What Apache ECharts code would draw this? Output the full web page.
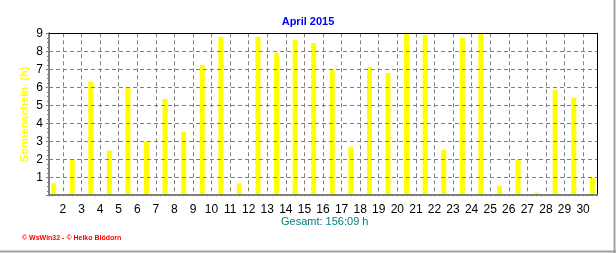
<!DOCTYPE html>
<html>
<head>
<meta charset="utf-8">
<script src="https://cdn.jsdelivr.net/npm/echarts@6/dist/echarts.min.js"></script>
<style>
html,body{margin:0;padding:0;background:#fff;}
#chart{width:616px;height:253px;}
</style>
</head>
<body>
<div id="chart"></div>
<script>
const days = [1,2,3,4,5,6,7,8,9,10,11,12,13,14,15,16,17,18,19,20,21,22,23,24,25,26,27,28,29,30];
const sunshine = [0.67,2.0,6.31,2.48,5.98,2.98,5.35,3.53,7.24,8.79,0.67,8.79,7.9,8.64,8.46,6.96,2.7,7.13,6.79,9.0,8.9,2.53,8.74,9.0,0.53,1.98,0.15,5.87,5.42,0.98];
const dayTickLabels = ['2','3','4','5','6','7','8','9','10','11','12','13','14','15','16','17','18','19','20','21','22','23','24','25','26','27','28','29','30'];
const titleText = 'April 2015';
const yName = 'Sonnenschein  (h)';
const totalText = 'Gesamt: 156:09 h';
const footerText = '© WsWin32 - © Heiko Blödorn';

const FONT = '"Liberation Sans", Arial, sans-serif';
const plotLeft = 49, plotTop = 33.3, plotW = 548, plotH = 162;
const xMin = 0.75, xMax = 30.25;
const pxPerDay = plotW / (xMax - xMin);
const g2Left = plotLeft + (1.5 - xMin) * pxPerDay;
const g2Width = (dayTickLabels.length - 1) * pxPerDay;

const chart = echarts.init(document.getElementById('chart'), null, {renderer: 'canvas'});
chart.setOption({
  animation: false,
  backgroundColor: '#ffffff',
  title: {
    text: titleText, left: 'center', top: 11,
    textStyle: {color: '#0000ff', fontSize: 11, fontWeight: 'bold', fontFamily: FONT}
  },
  grid: [
    {left: plotLeft, top: plotTop, width: plotW, height: plotH},
    {left: g2Left, top: plotTop, width: g2Width, height: plotH}
  ],
  xAxis: [
    {
      type: 'value', gridIndex: 0, min: xMin, max: xMax, interval: 0.25,
      offset: -1, z: 5,
      axisLine: {show: true, lineStyle: {color: '#808080', width: 2}},
      axisTick: {show: true, length: 2, lineStyle: {color: '#808080', width: 1}},
      axisLabel: {show: false},
      splitLine: {show: false}
    },
    {
      type: 'value', gridIndex: 0, position: 'top', min: xMin, max: xMax, z: 5,
      axisLine: {show: true, onZero: false, lineStyle: {color: '#000000', width: 1}},
      axisTick: {show: false}, axisLabel: {show: false}, splitLine: {show: false}
    },
    {
      type: 'category', gridIndex: 1, data: dayTickLabels, boundaryGap: false,
      axisLine: {show: false}, axisTick: {show: false},
      axisLabel: {show: true, interval: 0, margin: 8, color: '#000000', fontSize: 12, fontFamily: FONT},
      splitLine: {show: true, interval: 0, lineStyle: {color: '#808080', width: 1, type: [4, 3]}}
    }
  ],
  yAxis: [
    {
      type: 'value', gridIndex: 0, min: 0, max: 9, interval: 1, z: 5,
      name: yName, nameLocation: 'middle', nameGap: 19, nameRotate: 90,
      nameMoveOverlap: false,
      nameTextStyle: {color: '#ffff00', fontSize: 11, fontWeight: 'bold', fontFamily: FONT},
      axisLine: {show: true, lineStyle: {color: '#808080', width: 2}},
      axisTick: {show: true, length: 3, lineStyle: {color: '#808080'}},
      minorTick: {show: true, splitNumber: 4, length: 2, lineStyle: {color: '#808080'}},
      axisLabel: {margin: 6, color: '#000000', fontSize: 12, fontFamily: FONT,
        formatter: v => (v === 0 ? '' : String(v))},
      splitLine: {show: true, lineStyle: {color: '#808080', width: 1, type: [4, 3]}}
    },
    {
      type: 'value', gridIndex: 0, position: 'right', min: 0, max: 9, z: 5,
      axisLine: {show: true, lineStyle: {color: '#000000', width: 1}},
      axisTick: {show: false}, axisLabel: {show: false}, splitLine: {show: false}
    },
    {
      type: 'value', gridIndex: 1, min: 0, max: 9, show: false
    }
  ],
  series: [
    {
      type: 'bar', xAxisIndex: 0, yAxisIndex: 0, barWidth: 5,
      itemStyle: {color: '#ffff00'},
      data: days.map((d, i) => [d, sunshine[i]])
    }
  ],
  graphic: [
    {type: 'text', left: 281, top: 216, style: {text: totalText, fill: '#008080', font: '11px ' + FONT}},
    {type: 'text', left: 22, top: 235, style: {text: footerText, fill: '#ff0000', font: 'bold 7px ' + FONT}},
    {type: 'line', shape: {x1: 614.5, y1: 0, x2: 614.5, y2: 253}, style: {stroke: '#a0a0a0', lineWidth: 2}},
    {type: 'line', shape: {x1: 0, y1: 251.5, x2: 616, y2: 251.5}, style: {stroke: '#a0a0a0', lineWidth: 2}}
  ]
});
</script>
</body>
</html>
